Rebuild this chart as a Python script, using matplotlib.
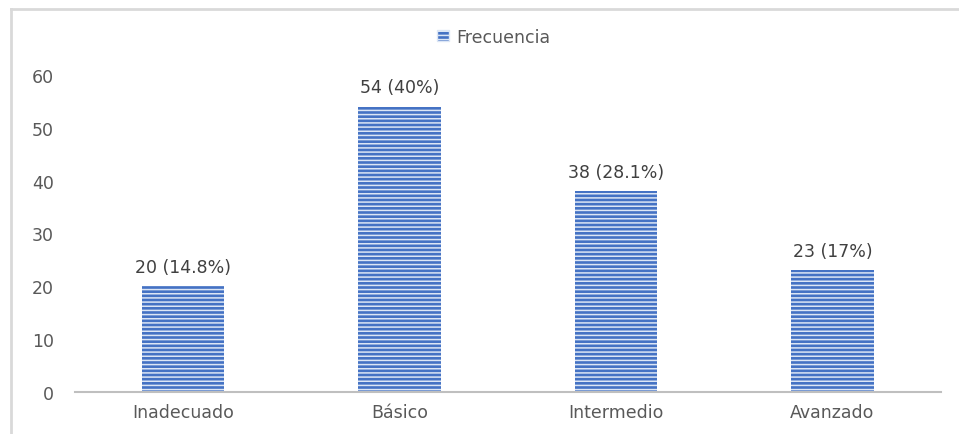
import matplotlib.pyplot as plt
from matplotlib.patches import Patch
from matplotlib.lines import Line2D

categorias = ["Inadecuado", "Básico", "Intermedio", "Avanzado"]
frecuencia = [20, 54, 38, 23]
porcentaje = ["14.8%", "40%", "28.1%", "17%"]

plt.rcParams['font.family'] = ['DejaVu Sans']
plt.rcParams['hatch.color'] = '#DCE6F5'
plt.rcParams['hatch.linewidth'] = 1.1

fig = plt.figure(figsize=(9.59, 4.35), dpi=100)
ax = fig.add_axes([0.078, 0.0966, 0.903, 0.729])

x = range(len(categorias))
bars = ax.bar(x, frecuencia, width=0.38, color="#4472C4", hatch="----",
              linewidth=0)
for b in bars:
    b.set_edgecolor("#DCE6F5")

for i, (v, p) in enumerate(zip(frecuencia, porcentaje)):
    ax.text(i, v + 2.0, f"{v} ({p})", ha="center", va="bottom",
            fontsize=12.5, color="#404040")

ax.set_xlim(-0.5, 3.5)
ax.set_ylim(0, 60)
ax.set_yticks(range(0, 61, 10))
ax.set_xticks(list(x))
ax.set_xticklabels(categorias)
ax.tick_params(axis="both", length=0, labelsize=12.5, labelcolor="#595959")
ax.tick_params(axis="y", pad=15)
ax.tick_params(axis="x", pad=8)
for s in ["top", "right", "left"]:
    ax.spines[s].set_visible(False)
ax.spines["bottom"].set_color("#BFBFBF")
ax.spines["bottom"].set_linewidth(1.5)

handle = Patch(facecolor="#4472C4", edgecolor="#DCE6F5", hatch="----")
fig.legend([handle], ["Frecuencia"], loc="center", bbox_to_anchor=(0.515, 0.913),
           frameon=False, fontsize=12.5, labelcolor="#595959",
           handlelength=0.7, handleheight=0.6, handletextpad=0.4)

# chart border (left and top)
fig.add_artist(Line2D([0.0115, 0.0115], [0, 0.977], transform=fig.transFigure,
                      color="#D9D9D9", linewidth=2))
fig.add_artist(Line2D([0.0115, 1.0], [0.977, 0.977], transform=fig.transFigure,
                      color="#D9D9D9", linewidth=2))

fig.savefig("out.png", dpi=100)
